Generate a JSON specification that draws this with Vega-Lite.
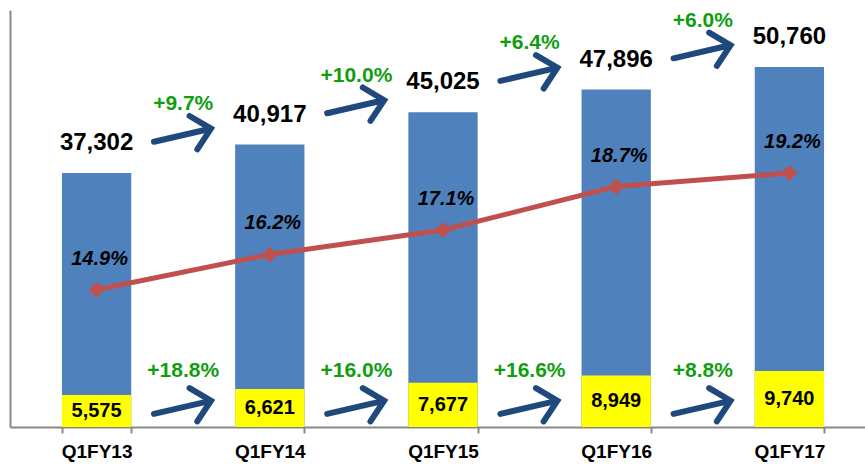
{
  "$schema": "https://vega.github.io/schema/vega-lite/v6.json",
  "width": 866,
  "height": 417,
  "autosize": {"type": "none"},
  "padding": {"left": 10, "top": 10, "right": 0, "bottom": 37},
  "background": "white",
  "config": {"view": {"stroke": null}, "font": "Liberation Sans"},
  "datasets": {
    "main": [
      {"q": "Q1FY13", "total": 37302, "part": 5575, "share": 14.9, "shareLabel": "14.9%"},
      {"q": "Q1FY14", "total": 40917, "part": 6621, "share": 16.2, "shareLabel": "16.2%"},
      {"q": "Q1FY15", "total": 45025, "part": 7677, "share": 17.1, "shareLabel": "17.1%"},
      {"q": "Q1FY16", "total": 47896, "part": 8949, "share": 18.7, "shareLabel": "18.7%"},
      {"q": "Q1FY17", "total": 50760, "part": 9740, "share": 19.2, "shareLabel": "19.2%"}
    ],
    "growth": [
      {"q": "Q1FY13", "total": 37302, "totalGrowth": "+9.7%", "partGrowth": "+18.8%"},
      {"q": "Q1FY14", "total": 40917, "totalGrowth": "+10.0%", "partGrowth": "+16.0%"},
      {"q": "Q1FY15", "total": 45025, "totalGrowth": "+6.4%", "partGrowth": "+16.6%"},
      {"q": "Q1FY16", "total": 47896, "totalGrowth": "+6.0%", "partGrowth": "+8.8%"}
    ]
  },
  "encoding": {
    "x": {
      "field": "q",
      "type": "nominal",
      "scale": {
        "domain": ["Q1FY13", "Q1FY14", "Q1FY15", "Q1FY16", "Q1FY17"],
        "paddingInner": 0.6,
        "paddingOuter": 0.3
      },
      "axis": {
        "title": null,
        "labelAngle": 0,
        "labelFont": "Liberation Sans",
        "labelFontSize": 19,
        "labelFontWeight": "bold",
        "labelColor": "#000000",
        "labelPadding": 9,
        "tickBand": "extent",
        "tickSize": 6,
        "tickColor": "#888888",
        "tickWidth": 2,
        "domainColor": "#888888",
        "domainWidth": 2,
        "grid": false
      }
    }
  },
  "layer": [
    {
      "data": {"name": "main"},
      "mark": {"type": "bar", "color": "#4F81BD"},
      "encoding": {
        "y": {
          "field": "total",
          "type": "quantitative",
          "scale": {"domain": [5050, 58000], "nice": false, "zero": false},
          "axis": {"title": null, "labels": false, "ticks": false, "grid": false, "domain": true, "domainColor": "#888888", "domainWidth": 2}
        },
        "y2": {"datum": 5050}
      }
    },
    {
      "data": {"name": "main"},
      "mark": {"type": "bar", "color": "#FFFF00"},
      "encoding": {
        "y": {"field": "part", "type": "quantitative", "scale": {"domain": [0, 72500], "nice": false}, "axis": null}
      }
    },
    {
      "data": {"name": "main"},
      "mark": {"type": "text", "font": "Liberation Sans", "fontSize": 20, "fontWeight": "bold", "color": "#000000", "baseline": "middle", "align": "center"},
      "encoding": {
        "y": {"field": "part", "type": "quantitative", "scale": {"domain": [0, 145000], "nice": false}, "axis": null},
        "text": {"field": "part", "type": "quantitative", "format": ","}
      }
    },
    {
      "data": {"name": "main"},
      "mark": {"type": "text", "font": "Liberation Sans", "fontSize": 24, "fontWeight": "bold", "color": "#000000", "baseline": "middle", "align": "center", "dy": -30},
      "encoding": {
        "y": {"field": "total", "type": "quantitative", "scale": {"domain": [5050, 58000], "nice": false, "zero": false}, "axis": null},
        "text": {"field": "total", "type": "quantitative", "format": ","}
      }
    },
    {
      "data": {"name": "main"},
      "mark": {
        "type": "line",
        "color": "#C0504D",
        "strokeWidth": 5,
        "point": {"shape": "diamond", "size": 260, "filled": true, "color": "#C0504D", "opacity": 1}
      },
      "encoding": {
        "y": {"field": "share", "type": "quantitative", "scale": {"domain": [9.85, 25.2], "nice": false, "zero": false}, "axis": null}
      }
    },
    {
      "data": {"name": "main"},
      "mark": {"type": "text", "font": "Liberation Sans", "fontSize": 20, "fontWeight": "bold", "fontStyle": "italic", "color": "#000000", "baseline": "middle", "align": "center", "dy": -31, "dx": 3},
      "encoding": {
        "y": {"field": "share", "type": "quantitative", "scale": {"domain": [9.85, 25.2], "nice": false, "zero": false}, "axis": null},
        "text": {"field": "shareLabel", "type": "nominal"}
      }
    },
    {
      "data": {"name": "growth"},
      "mark": {
        "type": "point",
        "shape": "M-1,0L0.93,0M0.35,-0.57L0.95,0L0.35,0.57",
        "size": 3600,
        "filled": false,
        "stroke": "#1F497D",
        "strokeWidth": 6,
        "strokeCap": "round",
        "strokeJoin": "miter",
        "opacity": 1,
        "angle": 347,
        "yOffset": -38
      },
      "encoding": {
        "x": {"field": "q", "type": "nominal", "bandPosition": 1.75},
        "y": {"field": "total", "type": "quantitative", "scale": {"domain": [5050, 58000], "nice": false, "zero": false}, "axis": null}
      }
    },
    {
      "data": {"name": "growth"},
      "mark": {"type": "text", "font": "Liberation Sans", "fontSize": 21, "fontWeight": "bold", "color": "#109E10", "baseline": "middle", "align": "center", "yOffset": -69},
      "encoding": {
        "x": {"field": "q", "type": "nominal", "bandPosition": 1.75},
        "y": {"field": "total", "type": "quantitative", "scale": {"domain": [5050, 58000], "nice": false, "zero": false}, "axis": null},
        "text": {"field": "totalGrowth", "type": "nominal"}
      }
    },
    {
      "data": {"name": "growth"},
      "mark": {
        "type": "point",
        "shape": "M-1,0L0.93,0M0.35,-0.57L0.95,0L0.35,0.57",
        "size": 3600,
        "filled": false,
        "stroke": "#1F497D",
        "strokeWidth": 6,
        "strokeCap": "round",
        "strokeJoin": "miter",
        "opacity": 1,
        "angle": 347
      },
      "encoding": {
        "x": {"field": "q", "type": "nominal", "bandPosition": 1.75},
        "y": {"datum": 3450, "type": "quantitative", "scale": {"domain": [0, 72500], "nice": false}, "axis": null}
      }
    },
    {
      "data": {"name": "growth"},
      "mark": {"type": "text", "font": "Liberation Sans", "fontSize": 21, "fontWeight": "bold", "color": "#109E10", "baseline": "middle", "align": "center"},
      "encoding": {
        "x": {"field": "q", "type": "nominal", "bandPosition": 1.75},
        "y": {"datum": 9700, "type": "quantitative", "scale": {"domain": [0, 72500], "nice": false}, "axis": null},
        "text": {"field": "partGrowth", "type": "nominal"}
      }
    }
  ],
  "resolve": {"scale": {"y": "independent"}, "axis": {"y": "independent"}}
}
